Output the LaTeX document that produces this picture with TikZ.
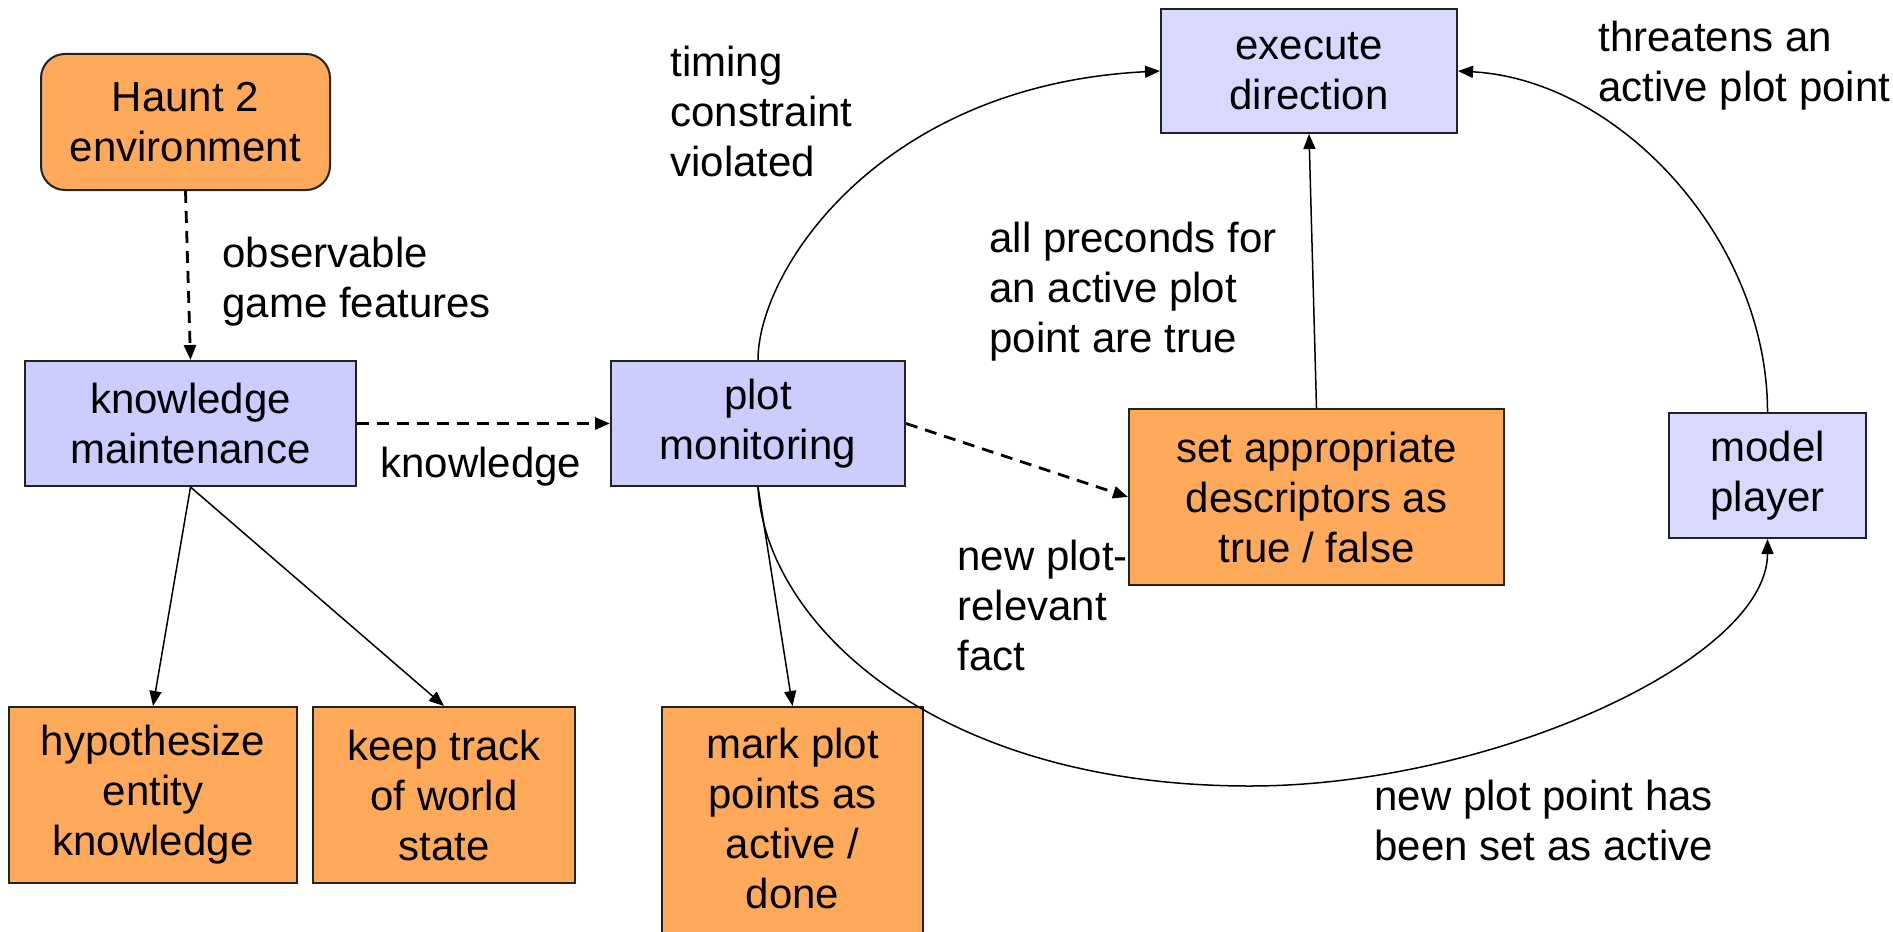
\documentclass[tikz,border=0pt]{standalone}
\usepackage{fontspec}
\setmainfont{Liberation Sans}
\usetikzlibrary{arrows.meta}
\definecolor{boxorange}{HTML}{FFAA5A}
\definecolor{boxblue}{HTML}{CCCCFF}
\definecolor{boxpale}{HTML}{D9D9FF}
\definecolor{edgegray}{HTML}{222222}
\newcommand\dgfont{\fontsize{21}{25}\selectfont}
\tikzset{
  box/.style={draw=edgegray, line width=1pt, inner sep=0pt, align=center, font=\dgfont},
  task/.style={box, fill=boxorange},
  proc/.style={box, fill=boxblue},
  procpale/.style={box, fill=boxpale},
  conn/.style={line width=0.75pt, -{Triangle[length=7.5pt,width=6pt]}},
  flow/.style={line width=1.4pt, dash pattern=on 6pt off 4pt, -{Triangle[length=7.5pt,width=6pt]}},
  lbl/.style={anchor=north west, inner sep=0pt, align=left, font=\dgfont},
}
\begin{document}
\begin{tikzpicture}[x=0.5pt, y=-0.5pt]
\useasboundingbox (0,0) rectangle (1893,931);

% processes and tasks
\node[task, rounded corners=12pt, minimum width=144.5pt, minimum height=68pt] (haunt) at (185.5,122) {Haunt 2\\environment};
\node[proc, minimum width=165.5pt, minimum height=62.5pt] (km) at (190.5,423.5) {knowledge\\maintenance};
\node[proc, minimum width=147pt, minimum height=62.5pt] (pm) at (758,423.5) {plot\\monitoring};
\node[procpale, minimum width=148pt, minimum height=62pt] (exec) at (1309,71) {execute\\direction};
\node[task, minimum width=187.5pt, minimum height=88pt] (desc) at (1316.5,497) {set appropriate\\descriptors as\\true / false};
\node[procpale, minimum width=98.5pt, minimum height=62.5pt] (mp) at (1767.5,475.5) {model\\player};
\node[task, minimum width=144pt, minimum height=88pt] (hyp) at (153,795) {hypothesize\\entity\\knowledge};
\node[task, minimum width=131pt, minimum height=88pt] (track) at (444,795) {keep track\\of world\\state};
\node[task, minimum width=130.5pt, minimum height=120pt, text depth=9pt] (mark) at (792.5,827) {mark plot\\points as\\active /\\done};

% data flow
\draw[flow] (haunt.south) -- (km.north);
\draw[flow] (km.east) -- (pm.west);
\draw[flow] (pm.east) -- (desc.west);

% control flow
\draw[conn] (km.south) -- (hyp.north);
\draw[conn] (km.south) -- (track.north);
\draw[conn] (pm.south) -- (mark.north);
\draw[conn] (desc.north) -- (exec.south);
\draw[conn] (pm.north) .. controls (758,270) and (880,85) .. (exec.west);
\draw[conn] (pm.south) .. controls (765,620) and (930,786) .. (1250,786)
                      .. controls (1490,786) and (1767.5,660) .. (mp.south);
\draw[conn] (mp.north) .. controls (1767.5,240) and (1620,80) .. (exec.east);

% edge labels
\node[lbl] (obs) at (222,232) {\strut observable\\game features};
\node[lbl] (know) at (380,442) {\strut knowledge};
\node[lbl] (timing) at (670,41) {\strut timing\\constraint\\violated};
\node[lbl] (precond) at (989,217) {\strut all preconds for\\an active plot\\point are true};
\node[lbl] (newfact) at (957,535) {\strut new plot-\\relevant\\fact};
\node[lbl] (newpp) at (1374,775) {\strut new plot point has\\been set as active};
\node[lbl] (threat) at (1598,16) {\strut threatens an\\active plot point};
\end{tikzpicture}
\end{document}
